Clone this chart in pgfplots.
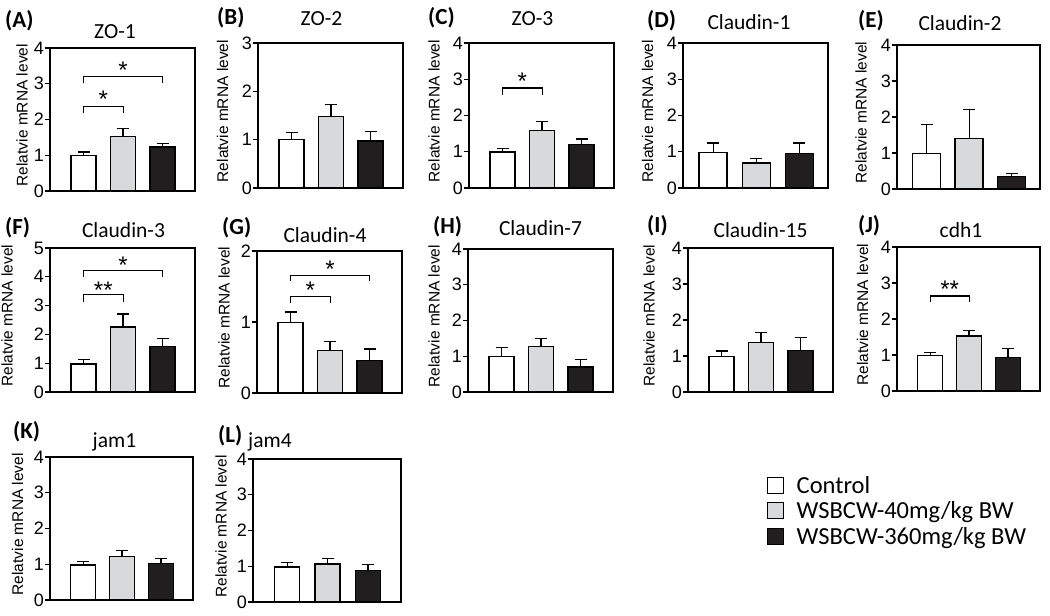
\documentclass[border=0pt]{standalone}
\usepackage{fontspec}
\setmainfont{Liberation Sans}
\newfontfamily\calfont{Carlito}
\usepackage{pgfplots}
\pgfplotsset{compat=1.18}
\definecolor{barlight}{RGB}{216,217,219}
\definecolor{bardark}{RGB}{33,30,31}

\pgfplotsset{
  panel/.style={
    scale only axis, width=145pt, anchor=north west,
    xmin=0.15, xmax=3.82, ymin=0,
    xtick=\empty, ytick pos=left, tick align=outside,
    major tick length=5pt,
    axis line style={line width=1.3pt},
    every tick/.style={line width=1.3pt, black},
    yticklabel style={font=\fontsize{18}{19}\selectfont, inner sep=1pt},
    /pgf/number format/assume math mode=true,
    ylabel={Relatvie mRNA level},
    every axis y label/.style={at={(rel axis cs:0,0.53)}, rotate=90, anchor=center,
      inner sep=0pt, font=\fontsize{15.5}{16}\selectfont},
    every axis title/.style={at={(rel axis cs:0.5,1)}, anchor=base, inner sep=0pt,
      font=\calfont\fontsize{21.5}{22}\selectfont},
    clip=false,
  },
  wide/.style={xmin=0.3, xmax=3.67},
  bars/.style={ybar, bar width=25pt, draw=black, line width=1.3pt,
    error bars/y dir=plus, error bars/y explicit,
    error bars/error bar style={line width=1.2pt, black},
    error bars/error mark options={line width=1.2pt, black, mark size=6pt, rotate=90}},
  c1/.style={bars, fill=white},
  c2/.style={bars, fill=barlight},
  c3/.style={bars, fill=bardark},
  widebar/.style={bar width=28pt},
}
\tikzset{
  plab/.style={font=\calfont\bfseries\fontsize{23}{24}\selectfont, anchor=base west, inner sep=0pt},
  star/.style={font=\fontsize{24}{24}\selectfont, anchor=base, yshift=-13.5pt, inner sep=0pt},
  brk/.style={line width=1.1pt, black},
}

\begin{document}
\begin{tikzpicture}
\path (0pt,0pt) rectangle (1050pt,-616pt);

% (A) ZO-1
\begin{axis}[panel, at={(50pt,-48pt)}, height=143pt, ymax=4, ytick={0,...,4},
  title={ZO-1}, title style={xshift=-7.5pt, yshift=10pt},
  ylabel style={at={([xshift=-28pt]rel axis cs:0,0.53)}}]
\addplot[c1] coordinates {(1,1.00) +- (0,0.09)};
\addplot[c2] coordinates {(2,1.53) +- (0,0.22)};
\addplot[c3] coordinates {(3,1.23) +- (0,0.10)};
\draw[brk] (axis cs:1,2.17) -- (axis cs:1,2.37) -- (axis cs:2,2.37) -- (axis cs:2,2.17);
\node[star] at (axis cs:1.5,2.71) {*};
\draw[brk] (axis cs:1,3.02) -- (axis cs:1,3.21) -- (axis cs:3,3.21) -- (axis cs:3,3.02);
\node[star] at (axis cs:2,3.53) {*};
\node[plab] at ([xshift=-45pt, yshift=21pt]rel axis cs:0,1) {(A)};
\end{axis}

% (B) ZO-2
\begin{axis}[panel, at={(258pt,-43pt)}, height=145pt, ymax=3, ytick={0,...,3},
  title={ZO-2}, title style={xshift=-9pt, yshift=18pt},
  ylabel style={at={([xshift=-35.5pt]rel axis cs:0,0.53)}}]
\addplot[c1] coordinates {(1,1.00) +- (0,0.15)};
\addplot[c2] coordinates {(2,1.48) +- (0,0.24)};
\addplot[c3] coordinates {(3,0.97) +- (0,0.20)};
\node[plab] at ([xshift=-41pt, yshift=19pt]rel axis cs:0,1) {(B)};
\end{axis}

% (C) ZO-3
\begin{axis}[panel, at={(469pt,-43pt)}, height=145pt, ymax=4, ytick={0,...,4},
  title={ZO-3}, title style={xshift=-9pt, yshift=18pt},
  ylabel style={at={([xshift=-35pt]rel axis cs:0,0.53)}}]
\addplot[c1] coordinates {(1,0.99) +- (0,0.11)};
\addplot[c2] coordinates {(2,1.58) +- (0,0.25)};
\addplot[c3] coordinates {(3,1.20) +- (0,0.15)};
\draw[brk] (axis cs:1,2.56) -- (axis cs:1,2.76) -- (axis cs:2,2.76) -- (axis cs:2,2.56);
\node[star] at (axis cs:1.5,3.1) {*};
\node[plab] at ([xshift=-41pt, yshift=19pt]rel axis cs:0,1) {(C)};
\end{axis}

% (D) Claudin-1
\begin{axis}[panel, wide, at={(683pt,-43pt)}, height=145pt, ymax=4, ytick={0,...,4},
  title={Claudin-1}, title style={xshift=-6.5pt, yshift=13.5pt},
  ylabel style={at={([xshift=-35.5pt]rel axis cs:0,0.53)}}]
\addplot[c1, widebar] coordinates {(1,0.98) +- (0,0.26)};
\addplot[c2, widebar] coordinates {(2,0.69) +- (0,0.12)};
\addplot[c3, widebar] coordinates {(3,0.95) +- (0,0.29)};
\node[plab] at ([xshift=-36pt, yshift=16pt]rel axis cs:0,1) {(D)};
\end{axis}

% (E) Claudin-2
\begin{axis}[panel, wide, at={(897pt,-45pt)}, width=143pt, height=144pt, ymax=4, ytick={0,...,4},
  title={Claudin-2}, title style={xshift=-8.5pt, yshift=15pt},
  ylabel style={at={([xshift=-36pt]rel axis cs:0,0.53)}}]
\addplot[c1, widebar] coordinates {(1,0.98) +- (0,0.82)};
\addplot[c2, widebar] coordinates {(2,1.40) +- (0,0.80)};
\addplot[c3, widebar] coordinates {(3,0.34) +- (0,0.10)};
\node[plab] at ([xshift=-39pt, yshift=18pt]rel axis cs:0,1) {(E)};
\end{axis}

% (F) Claudin-3
\begin{axis}[panel, at={(50pt,-248pt)}, height=144pt, ymax=5, ytick={0,...,5},
  title={Claudin-3}, title style={xshift=1pt, yshift=11pt},
  ylabel style={at={([xshift=-43pt]rel axis cs:0,0.53)}}]
\addplot[c1] coordinates {(1,0.97) +- (0,0.16)};
\addplot[c2] coordinates {(2,2.26) +- (0,0.45)};
\addplot[c3] coordinates {(3,1.57) +- (0,0.28)};
\draw[brk] (axis cs:1,3.14) -- (axis cs:1,3.37) -- (axis cs:2,3.37) -- (axis cs:2,3.14);
\node[star] at (axis cs:1.5,3.72) {**};
\draw[brk] (axis cs:1,3.99) -- (axis cs:1,4.22) -- (axis cs:3,4.22) -- (axis cs:3,3.99);
\node[star] at (axis cs:2,4.6) {*};
\node[plab] at ([xshift=-45pt, yshift=14pt]rel axis cs:0,1) {(F)};
\end{axis}

% (G) Claudin-4
\begin{axis}[panel, at={(257pt,-251pt)}, height=142pt, ymax=2, ytick={0,...,2},
  title={Claudin-4}, title style={xshift=-4.5pt, yshift=9pt},
  ylabel style={at={([xshift=-33pt]rel axis cs:0,0.53)}}]
\addplot[c1] coordinates {(1,0.99) +- (0,0.15)};
\addplot[c2] coordinates {(2,0.60) +- (0,0.12)};
\addplot[c3] coordinates {(3,0.46) +- (0,0.16)};
\draw[brk] (axis cs:1,1.27) -- (axis cs:1,1.36) -- (axis cs:2,1.36) -- (axis cs:2,1.27);
\node[star] at (axis cs:1.5,1.52) {*};
\draw[brk] (axis cs:1,1.58) -- (axis cs:1,1.66) -- (axis cs:3,1.66) -- (axis cs:3,1.58);
\node[star] at (axis cs:2,1.81) {*};
\node[plab] at ([xshift=-35pt, yshift=17pt]rel axis cs:0,1) {(G)};
\end{axis}

% (H) Claudin-7
\begin{axis}[panel, at={(468pt,-249pt)}, height=143pt, ymax=4, ytick={0,...,4},
  title={Claudin-7}, title style={xshift=0pt, yshift=14pt},
  ylabel style={at={([xshift=-34pt]rel axis cs:0,0.53)}}]
\addplot[c1] coordinates {(1,1.00) +- (0,0.25)};
\addplot[c2] coordinates {(2,1.27) +- (0,0.22)};
\addplot[c3] coordinates {(3,0.70) +- (0,0.20)};
\node[plab] at ([xshift=-35pt, yshift=16pt]rel axis cs:0,1) {(H)};
\end{axis}

% (I) Claudin-15
\begin{axis}[panel, at={(688pt,-248pt)}, height=144pt, ymax=4, ytick={0,...,4},
  title={Claudin-15}, title style={xshift=0pt, yshift=11pt},
  ylabel style={at={([xshift=-39pt]rel axis cs:0,0.53)}}]
\addplot[c1] coordinates {(1,0.98) +- (0,0.16)};
\addplot[c2] coordinates {(2,1.37) +- (0,0.28)};
\addplot[c3] coordinates {(3,1.15) +- (0,0.36)};
\node[plab] at ([xshift=-41pt, yshift=16pt]rel axis cs:0,1) {(I)};
\end{axis}

% (J) cdh1
\begin{axis}[panel, at={(897pt,-247pt)}, width=143pt, height=144pt, ymax=4, ytick={0,...,4},
  title={cdh1}, title style={xshift=-7.5pt, yshift=10pt},
  ylabel style={at={([xshift=-34.5pt]rel axis cs:0,0.53)}}]
\addplot[c1] coordinates {(1,0.98) +- (0,0.08)};
\addplot[c2] coordinates {(2,1.53) +- (0,0.15)};
\addplot[c3] coordinates {(3,0.94) +- (0,0.24)};
\draw[brk] (axis cs:1,2.46) -- (axis cs:1,2.64) -- (axis cs:2,2.64) -- (axis cs:2,2.46);
\node[star] at (axis cs:1.5,2.98) {**};
\node[plab] at ([xshift=-39pt, yshift=15pt]rel axis cs:0,1) {(J)};
\end{axis}

% (K) jam1
\begin{axis}[panel, at={(50pt,-457pt)}, width=143pt, height=143pt, ymax=4, ytick={0,...,4},
  title={jam1}, title style={xshift=-7pt, yshift=10pt},
  ylabel style={at={([xshift=-32.5pt]rel axis cs:0,0.53)}}]
\addplot[c1] coordinates {(1,0.98) +- (0,0.09)};
\addplot[c2] coordinates {(2,1.21) +- (0,0.17)};
\addplot[c3] coordinates {(3,1.02) +- (0,0.15)};
\node[plab] at ([xshift=-37pt, yshift=19pt]rel axis cs:0,1) {(K)};
\end{axis}

% (L) jam4
\begin{axis}[panel, at={(253pt,-459pt)}, width=148pt, height=143pt, ymax=4, ytick={0,...,4},
  title={jam4}, title style={xshift=-57pt, yshift=12pt},
  ylabel style={at={([xshift=-32pt]rel axis cs:0,0.53)}}]
\addplot[c1] coordinates {(1,0.98) +- (0,0.12)};
\addplot[c2] coordinates {(2,1.06) +- (0,0.15)};
\addplot[c3] coordinates {(3,0.89) +- (0,0.16)};
\node[plab] at ([xshift=-35pt, yshift=17pt]rel axis cs:0,1) {(L)};
\end{axis}

% legend
\begin{axis}[at={(767pt,-474pt)}, anchor=north west, hide axis, scale only axis,
  width=10pt, height=10pt, xmin=0, xmax=1, ymin=0, ymax=1,
  legend style={at={(0,1)}, anchor=north west, draw=none, fill=none,
    inner sep=0pt, outer sep=0pt, row sep=3pt,
    font=\calfont\fontsize{24.5}{25}\selectfont,
    /tikz/every even column/.append style={column sep=0pt}},
  legend cell align=left,
  legend image code/.code={\draw[#1, line width=1pt] (0pt,-8pt) rectangle (16pt,8pt);
    \path (27pt,0pt);}]
\addlegendimage{fill=white, draw=black}
\addlegendentry{Control}
\addlegendimage{fill=barlight, draw=black}
\addlegendentry{WSBCW-40mg/kg BW}
\addlegendimage{fill=bardark, draw=black}
\addlegendentry{WSBCW-360mg/kg BW}
\end{axis}
\end{tikzpicture}
\end{document}
